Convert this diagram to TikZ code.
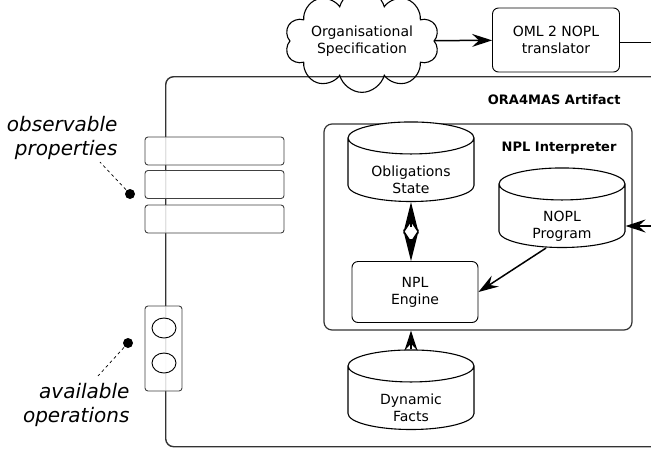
\documentclass[tikz,border=0pt]{standalone}
\usepackage{fontspec}
\setmainfont{DejaVu Sans}
\usetikzlibrary{shapes.geometric, shapes.symbols, arrows.meta}

\begin{document}
\begin{tikzpicture}[x = 1pt, y = -1pt,
  font = \fontsize{14}{17}\selectfont,
  box/.style = {draw, rounded corners = 6pt, line width = 0.9pt, fill = white,
    align = center},
  store/.style = {draw, cylinder, shape border rotate = 90, aspect = 0.4,
    line width = 1.1pt, fill = white, inner sep = 0pt,
    minimum width = 126pt, minimum height = 66pt},
  storetext/.style = {align = center, yshift = -10pt},
  prop/.style = {draw = black!75, rounded corners = 3pt, fill = white,
    fill opacity = 0.85, line width = 0.9pt, minimum width = 139pt,
    minimum height = 28pt},
  link/.style = {-{Stealth[length = 20pt, width = 13pt, inset = 7pt]},
    line width = 1.5pt},
  both/.style = {-{Stealth[length = 32pt, width = 16pt, inset = 12pt]},
    line width = 1.5pt, shorten <= 6pt},
  note/.style = {dashed, line width = 0.7pt},
  title/.style = {font = \fontsize{13}{15}\selectfont\bfseries, anchor = east},
  tag/.style = {font = \fontsize{20}{24.5}\selectfont\itshape, align = right,
    anchor = east}]

  \useasboundingbox (0, 0) rectangle (651, 448);
  \clip (0, 0) rectangle (651, 448);

  % artifact and interpreter
  \node[draw = black!80, line width = 1.4pt, rounded corners = 8pt,
  minimum width = 600pt, minimum height = 370pt, anchor = north west]
  (art) at (165, 76) {};
  \node[title] (artname) at (624, 100) {ORA4MAS Artifact};

  \node[draw = black!80, line width = 1.2pt, rounded corners = 8pt,
  minimum width = 308pt, minimum height = 206pt] (interp) at (478, 227) {};
  \node[title] (interpname) at (620, 148) {NPL Interpreter};

  % inputs
  \node[cloud, draw, cloud puffs = 10, aspect = 2, line width = 1.1pt,
  minimum width = 125pt, minimum height = 62pt, align = center,
  inner sep = 0pt] (spec) at (362, 41) {Organisational\\Specification};
  \node[box, minimum width = 127pt, minimum height = 64pt] (oml) at (556, 40)
  {OML 2 NOPL\\translator};
  \coordinate (out) at (660, 42);
  \coordinate (in) at (660, 226);

  % stores and engine (the phantom gives the caps their depth)
  \node[store] (obl) at (411, 170) {\phantom{\rule{80pt}{31pt}}};
  \node[storetext] (obltext) at (obl.center) {Obligations\\State};
  \node[store] (nopl) at (562, 216) {\phantom{\rule{80pt}{31pt}}};
  \node[storetext] (nopltext) at (nopl.center) {NOPL\\Program};
  \node[store] (facts) at (411, 398) {\phantom{\rule{80pt}{31pt}}};
  \node[storetext] (factstext) at (facts.center) {Dynamic\\Facts};
  \node[box, minimum width = 126pt, minimum height = 61pt] (eng) at (415, 292)
  {NPL\\Engine};

  \draw[link] (spec) -- (oml);
  \draw[line width = 1pt] (oml.east |- out) -- (out);
  \draw[link] (in) -- (in -| nopl.east);

  \coordinate (mid) at (411, 233);
  \draw[both] (mid) -- (obl.south);
  \draw[both] (mid) -- (eng.north -| mid);
  \draw[link] ([xshift = -16pt]nopl.south) -- (eng.east);
  \draw[link] (facts.north) -- (facts.north |- interp.south);

  % observable properties and operations
  \node[prop] (p1) at (214.5, 151) {};
  \node[prop] (p2) at (214.5, 184.5) {};
  \node[prop] (p3) at (214.5, 219) {};

  \node[prop, minimum width = 37pt, minimum height = 85pt] (ops)
  at (163.5, 348.5) {};
  \node[draw, ellipse, fill = white, fill opacity = 0.85, line width = 0.9pt,
  minimum width = 24pt, minimum height = 20pt] (op1) at (164, 328) {};
  \node[draw, ellipse, fill = white, fill opacity = 0.85, line width = 0.9pt,
  minimum width = 24pt, minimum height = 20pt] (op2) at (164, 363) {};

  \node[tag] (obs) at (121, 138) {observable\\properties};
  \node[tag] (avail) at (133, 405) {available\\operations};

  \coordinate (d1) at (130, 194);
  \coordinate (e1) at (100, 162);
  \coordinate (d2) at (128, 343);
  \coordinate (e2) at (98, 376);
  \fill (d1) circle[radius = 5pt];
  \fill (d2) circle[radius = 5pt];
  \draw[note] (d1) -- (e1);
  \draw[note] (d2) -- (e2);
\end{tikzpicture}
\end{document}
